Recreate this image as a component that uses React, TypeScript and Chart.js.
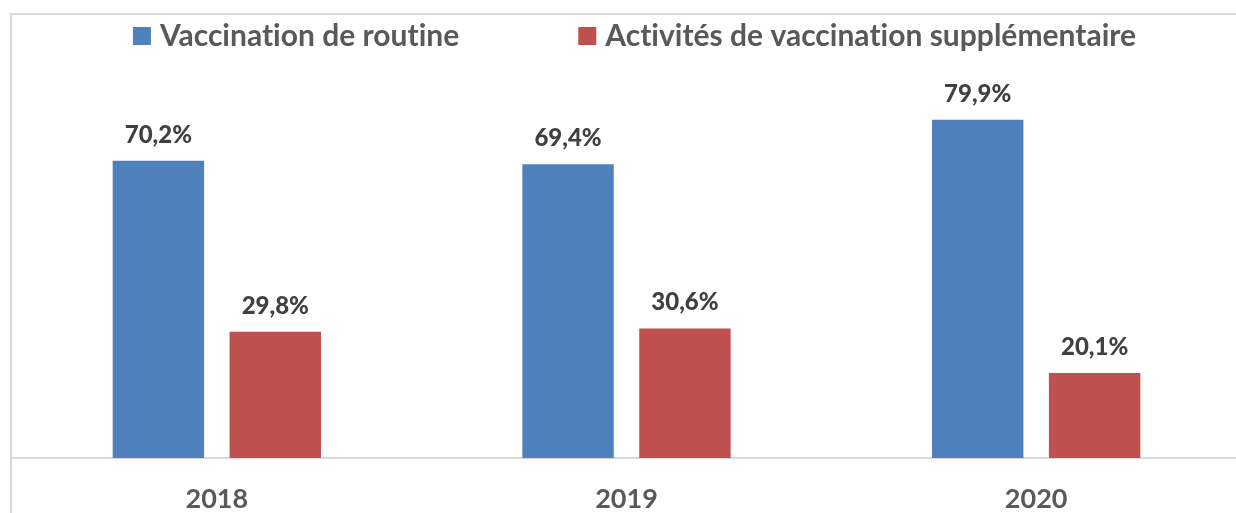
import React, { useEffect, useRef } from "react";
import { Chart, registerables } from "chart.js";

Chart.register(...registerables);

const categories = ["2018", "2019", "2020"];
const routineValues = [70.2, 69.4, 79.9];
const supplementaryValues = [29.8, 30.6, 20.1];
const seriesLabels = ["Vaccination de routine", "Activités de vaccination supplémentaire"];
const seriesColors = ["#4F81BD", "#C0504D"];

const FONT = "Lato, 'Open Sans', sans-serif";

export default function App() {
  const ref = useRef<HTMLCanvasElement>(null);

  useEffect(() => {
    if (!ref.current) return;

    const framePlugin = {
      id: "frame",
      beforeDraw(chart: any) {
        const ctx = chart.ctx;
        ctx.save();
        ctx.strokeStyle = "#D9D9D9";
        ctx.lineWidth = 2;
        ctx.strokeRect(11, 14, chart.width + 20, chart.height + 20);
        ctx.restore();
      },
    };

    const valueLabelPlugin = {
      id: "valueLabels",
      afterDatasetsDraw(chart: any) {
        const ctx = chart.ctx;
        ctx.save();
        ctx.font = `900 24px ${FONT}`;
        ctx.fillStyle = "#404040";
        ctx.textAlign = "center";
        ctx.textBaseline = "alphabetic";
        chart.data.datasets.forEach((ds: any, di: number) => {
          const meta = chart.getDatasetMeta(di);
          meta.data.forEach((bar: any, i: number) => {
            const v = ds.data[i] as number;
            const txt = v.toFixed(1).replace(".", ",") + "%";
            ctx.fillText(txt, bar.x, bar.y - 18);
          });
        });
        ctx.restore();
      },
    };

    const legendPlugin = {
      id: "customLegend",
      afterDraw(chart: any) {
        const ctx = chart.ctx;
        ctx.save();
        ctx.font = `bold 30px ${FONT}`;
        try {
          (ctx as any).letterSpacing = "0.01px";
        } catch (e) {}
        const box = 18;
        const gap = 9;
        const spacing = 119;
        const items = chart.data.datasets.map((ds: any) => ({
          label: ds.label as string,
          color: ds.backgroundColor as string,
          w: ctx.measureText(ds.label).width,
        }));
        const total =
          items.reduce((s: number, it: any) => s + box + gap + it.w, 0) +
          spacing * (items.length - 1);
        let x = 634.5 - total / 2;
        items.forEach((it: any) => {
          ctx.fillStyle = it.color;
          ctx.fillRect(x, 27, box, box);
          ctx.fillStyle = "#595959";
          ctx.textAlign = "left";
          ctx.textBaseline = "alphabetic";
          ctx.fillText(it.label, x + box + gap, 46);
          x += box + gap + it.w + spacing;
        });
        ctx.restore();
      },
    };

    const chart = new Chart(ref.current, {
      type: "bar",
      data: {
        labels: categories,
        datasets: [
          {
            label: seriesLabels[0],
            data: routineValues,
            backgroundColor: seriesColors[0],
            categoryPercentage: 0.5707,
            barPercentage: 0.782,
          },
          {
            label: seriesLabels[1],
            data: supplementaryValues,
            backgroundColor: seriesColors[1],
            categoryPercentage: 0.5707,
            barPercentage: 0.782,
          },
        ],
      },
      options: {
        responsive: false,
        animation: false,
        devicePixelRatio: 1,
        layout: { padding: { left: 12, right: 19, top: 77, bottom: 0 } },
        plugins: {
          legend: { display: false },
          tooltip: { enabled: false },
        },
        scales: {
          x: {
            grid: { display: false, drawTicks: false },
            border: { display: true, color: "#D9D9D9", width: 2 },
            ticks: {
              color: "#595959",
              font: { family: FONT, size: 27, weight: "bold" },
              padding: 25,
            },
            afterFit: (s: any) => {
              s.height = 82;
            },
          },
          y: {
            display: false,
            min: 0,
            max: 90,
          },
        },
      },
      plugins: [framePlugin, valueLabelPlugin, legendPlugin],
    });

    return () => chart.destroy();
  }, []);

  return (
    <div
      style={{
        position: "absolute",
        left: 0,
        top: 0,
        width: 1236,
        height: 513,
        overflow: "hidden",
        background: "#FFFFFF",
      }}
    >
      <canvas
        ref={ref}
        width={1260}
        height={540}
        style={{ display: "block", position: "absolute", left: 0, top: 0 }}
      />
    </div>
  );
}
